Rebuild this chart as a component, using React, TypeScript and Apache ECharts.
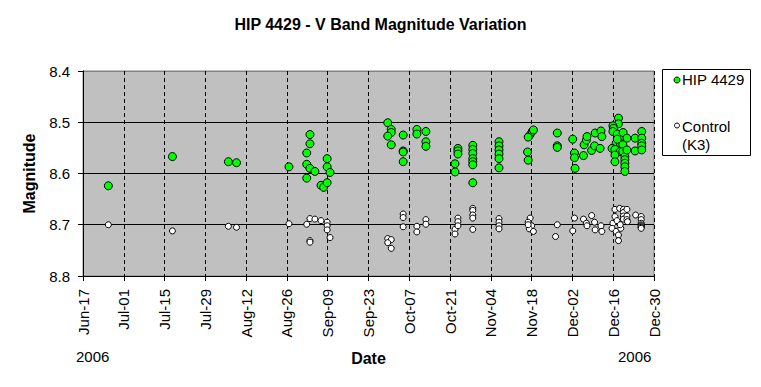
import React, { useEffect, useRef } from "react";
import * as echarts from "echarts";

// Days since 2006-06-17 and V magnitudes
const hipDays = [
  8.7, 30.7, 49.9, 52.7, 70.7, 77.9, 77.9, 76.8, 76.8, 77.9, 79.6, 76.8, 81.7, 82.6, 83.8, 83.8, 83.8, 84.8,
  104.6, 105.8, 105.8, 104.6, 105.8, 109.9, 109.9, 109.9, 109.9, 114.6, 114.6, 117.7, 117.7, 117.7,
  127.7, 127.7, 128.7, 128.7, 128.7, 133.8, 133.8, 133.8, 133.8, 133.8, 133.8, 133.8,
  142.8, 142.8, 142.8, 142.8, 142.8, 142.8, 153.4, 154.2, 154.6, 152.8, 152.6, 152.8,
  162.8, 162.8, 162.8, 168.1, 168.7, 168.7, 168.9, 171.8, 172.0, 172.8, 173.0, 174.6, 175.6, 175.8,
  177.5, 177.8, 178.1, 183.8, 183.8, 181.9, 182.1, 181.9, 183.4, 185.4, 186.7, 191.8, 189.5, 191.8,
  191.8, 191.8, 189.5, 183.0, 184.4, 181.6, 182.6, 185.3, 184.4, 185.3, 182.6, 182.6, 186.0, 186.0,
  186.0, 186.0, 186.0, 186.7, 183.4, 191.8,
];
const hipMags = [
  8.624, 8.567, 8.577, 8.579, 8.587, 8.524, 8.542, 8.56, 8.582, 8.59, 8.596, 8.609, 8.623, 8.627, 8.618, 8.571, 8.587, 8.598,
  8.501, 8.514, 8.52, 8.527, 8.544, 8.525, 8.556, 8.558, 8.577, 8.514, 8.523, 8.518, 8.538, 8.547,
  8.581, 8.597, 8.551, 8.556, 8.562, 8.545, 8.553, 8.561, 8.571, 8.577, 8.583, 8.618,
  8.538, 8.546, 8.554, 8.562, 8.571, 8.589, 8.525, 8.518, 8.515, 8.529, 8.558, 8.574,
  8.521, 8.546, 8.549, 8.533, 8.56, 8.569, 8.59, 8.565, 8.544, 8.535, 8.528, 8.555, 8.546, 8.521,
  8.551, 8.517, 8.528, 8.492, 8.503, 8.507, 8.512, 8.518, 8.523, 8.52, 8.531, 8.518, 8.531, 8.531,
  8.541, 8.546, 8.556, 8.541, 8.541, 8.551, 8.553, 8.544, 8.557, 8.557, 8.564, 8.577, 8.567, 8.573,
  8.58, 8.587, 8.596, 8.554, 8.533, 8.554,
];
const ctrlDays = [
  8.7, 30.7, 49.9, 52.7, 70.7, 76.8, 77.9, 79.6, 81.7, 83.8, 83.8, 83.8, 84.8, 77.9, 77.9,
  104.6, 105.8, 104.6, 105.8, 109.9, 109.9, 109.9, 114.6, 114.6, 117.7, 117.7,
  127.7, 127.7, 128.7, 128.7, 128.7, 133.8, 133.8, 133.8, 133.8, 133.8, 142.8, 142.8, 142.8, 142.8,
  153.5, 152.8, 154.0, 153.2, 154.6, 152.8, 162.8, 162.2, 168.7, 168.1, 171.8, 172.8, 173.0,
  174.6, 175.6, 175.8, 177.8, 178.1, 182.6, 184.2, 185.5, 185.5, 185.5, 185.5, 186.7, 186.7, 186.7,
  182.6, 181.9, 183.3, 181.6, 183.0, 183.8, 183.8, 184.6, 184.4, 186.9, 189.7,
  191.6, 191.6, 191.6, 191.6, 191.6, 191.6, 191.6, 191.6,
];
const ctrlMags = [
  8.7, 8.712, 8.703, 8.705, 8.698, 8.699, 8.688, 8.689, 8.692, 8.695, 8.702, 8.71, 8.725, 8.731, 8.734,
  8.727, 8.729, 8.735, 8.746, 8.679, 8.686, 8.704, 8.703, 8.714, 8.69, 8.699,
  8.709, 8.718, 8.687, 8.694, 8.702, 8.668, 8.672, 8.681, 8.687, 8.709, 8.688, 8.695, 8.702, 8.708,
  8.687, 8.695, 8.702, 8.708, 8.713, 8.7, 8.7, 8.723, 8.687, 8.712, 8.689, 8.697, 8.702,
  8.682, 8.695, 8.71, 8.702, 8.713, 8.67, 8.668, 8.67, 8.676, 8.683, 8.689, 8.67, 8.683, 8.69,
  8.684, 8.697, 8.692, 8.707, 8.713, 8.72, 8.731, 8.707, 8.7, 8.694, 8.681,
  8.684, 8.69, 8.697, 8.7, 8.702, 8.704, 8.705, 8.707,
];

const seriesNames = ["HIP 4429", "Control (K3)"];
const startDateUTC = Date.UTC(2006, 5, 17);
const xMinDay = 0;
const xMaxDay = 196;
const xStepDays = 14;
const yMin = 8.4;
const yMax = 8.8;
const yStep = 0.1;
const yearLabel = "2006";

const MONTHS = ["Jan", "Feb", "Mar", "Apr", "May", "Jun", "Jul", "Aug", "Sep", "Oct", "Nov", "Dec"];
const FONT = "Arial, 'Liberation Sans', sans-serif";

function dayLabel(v: number): string {
  const d = new Date(startDateUTC + Math.round(v) * 86400000);
  const dd = d.getUTCDate();
  return MONTHS[d.getUTCMonth()] + "-" + (dd < 10 ? "0" + dd : String(dd));
}

export default function App() {
  const ref = useRef<HTMLDivElement>(null);
  useEffect(() => {
    document.body.style.margin = "0";
    if (!ref.current) return;
    const chart = echarts.init(ref.current, null, { renderer: "svg" });
    const hipData = hipDays.map((d, i) => [d, hipMags[i]]);
    const ctrlData = ctrlDays.map((d, i) => [d, ctrlMags[i]]);
    chart.setOption({
      animation: false,
      backgroundColor: "#ffffff",
      textStyle: { fontFamily: FONT, color: "#000" },
      title: {
        text: "HIP 4429 - V Band Magnitude Variation",
        left: "center",
        top: 16,
        padding: 0,
        textStyle: { fontFamily: FONT, fontSize: 16, fontWeight: "bold", color: "#000" },
      },
      grid: {
        left: 83,
        right: 107,
        top: 71,
        bottom: 111,
        show: true,
        backgroundColor: "#c0c0c0",
        borderColor: "#808080",
        borderWidth: 1,
      },
      xAxis: {
        type: "value",
        min: xMinDay,
        max: xMaxDay,
        interval: xStepDays,
        name: "Date",
        nameLocation: "middle",
        nameGap: 74,
        nameTextStyle: { fontFamily: FONT, fontSize: 16, fontWeight: "bold", color: "#000" },
        axisLine: { show: true, onZero: false, lineStyle: { color: "#000", width: 1 } },
        axisTick: { show: true, inside: false, length: 5, lineStyle: { color: "#000" } },
        axisLabel: {
          rotate: 90,
          margin: 13,
          fontFamily: FONT,
          fontSize: 15,
          color: "#000",
          formatter: (v: number) => dayLabel(v),
        },
        splitLine: { show: true, lineStyle: { color: "#000", type: [4, 3], width: 1 } },
      },
      yAxis: {
        type: "value",
        inverse: true,
        min: yMin,
        max: yMax,
        interval: yStep,
        name: "Magnitude",
        nameLocation: "middle",
        nameGap: 46,
        nameTextStyle: { fontFamily: FONT, fontSize: 16, fontWeight: "bold", color: "#000" },
        axisLine: { show: true, onZero: false, lineStyle: { color: "#000", width: 1 } },
        axisTick: { show: true, inside: false, length: 5, lineStyle: { color: "#000" } },
        axisLabel: {
          margin: 13,
          fontFamily: FONT,
          fontSize: 15,
          color: "#000",
          formatter: (v: number) => v.toFixed(1),
        },
        splitLine: {
          show: true,
          lineStyle: { color: ["#808080", "#000", "#000", "#000", "#000"], width: 1 },
        },
      },
      series: [
        {
          name: seriesNames[1],
          type: "scatter",
          data: ctrlData,
          symbol: "circle",
          symbolSize: 6,
          itemStyle: { color: "#ffffff", borderColor: "#000", borderWidth: 1, opacity: 1 },
          z: 2,
        },
        {
          name: seriesNames[0],
          type: "scatter",
          data: hipData,
          symbol: "circle",
          symbolSize: 8,
          itemStyle: { color: "#00ff00", borderColor: "#000", borderWidth: 1, opacity: 1 },
          z: 3,
        },
      ],
      graphic: [
        {
          type: "text",
          left: 76,
          top: 349,
          style: { text: yearLabel, font: "15px " + FONT, fill: "#000" },
        },
        {
          type: "text",
          left: 618,
          top: 349,
          style: { text: yearLabel, font: "15px " + FONT, fill: "#000" },
        },
        {
          type: "rect",
          shape: { x: 662.5, y: 69.5, width: 88, height: 86 },
          style: { fill: "#fff", stroke: "#000", lineWidth: 1 },
        },
        {
          type: "circle",
          shape: { cx: 677, cy: 80, r: 3 },
          style: { fill: "#00ff00", stroke: "#000", lineWidth: 1 },
        },
        {
          type: "text",
          x: 682,
          y: 72,
          style: { text: seriesNames[0], font: "15px " + FONT, fill: "#000" },
        },
        {
          type: "circle",
          shape: { cx: 677, cy: 125.5, r: 2.5 },
          style: { fill: "#fff", stroke: "#000", lineWidth: 1 },
        },
        {
          type: "text",
          x: 682,
          y: 117,
          style: { text: "Control\n(K3)", font: "15px " + FONT, fill: "#000", lineHeight: 18 },
        },
      ],
    });
    return () => chart.dispose();
  }, []);
  return <div ref={ref} style={{ width: 761, height: 387 }} />;
}
